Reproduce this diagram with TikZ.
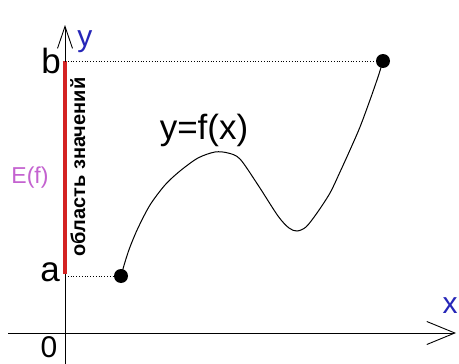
\documentclass[tikz,border=0pt]{standalone}
\usepackage{fontspec}
\setmainfont{Liberation Sans}
\usetikzlibrary{arrows.meta}
\definecolor{efcol}{HTML}{C462D0}
\definecolor{axblue}{HTML}{2626B8}
\definecolor{rangered}{HTML}{D42222}
\tikzset{
  axis/.style={line width=0.9pt, black},
  guide/.style={line width=1pt, dash pattern=on 1pt off 1.8pt},
  ptdot/.style={circle, fill=black, inner sep=0pt, minimum size=14pt},
  biglbl/.style={font=\fontsize{35}{35}\selectfont, inner sep=0pt},
  axlbl/.style={font=\fontsize{30}{30}\selectfont, text=axblue, inner sep=0pt},
}
\begin{document}
\begin{tikzpicture}[x=1pt,y=-1pt]
\useasboundingbox (0,0) rectangle (459,364);
\fill[white] (0,0) rectangle (459,364);
% axes
\coordinate (ybot) at (65,364);
\coordinate (ytop) at (65,25);
\coordinate (xleft) at (8,333);
\coordinate (xright) at (456,333);
\draw[axis, -{Straight Barb[length=22pt,width=15pt]}] (ybot) -- (ytop);
\draw[axis, -{Straight Barb[length=28pt,width=23pt]}] (xleft) -- (xright);
% range bar
\coordinate (rb) at (65,61);
\coordinate (ra) at (65,274);
\draw[rangered, line width=4.5pt] (rb) -- (ra);
% points
\node[ptdot] (pa) at (121,276) {};
\node[ptdot] (pb) at (383,61) {};
\draw[guide] (ra |- pa) -- (pa);
\draw[guide] (rb) -- (pb);
% curve
\draw[line width=1pt] plot[smooth, tension=0.5] coordinates {
 (121,276) (125,262) (130,247) (138,228) (150,205) (165,185) (180,171)
 (198,158) (215,152) (228,153) (240,159) (258,185) (278,216) (289,228)
 (297,231) (306,227) (317,213) (330,193) (340,172) (350,150) (360,127)
 (370,100) (378,77) (383,61)};
% labels
\node[biglbl] (lb) at (51,61) {b};
\node[biglbl] (la) at (50,272) {a};
\node[font=\fontsize{30}{30}\selectfont, inner sep=0pt] (l0) at (49,347) {0};
\node[axlbl] (ly) at (85,42) {y};
\node[axlbl] (lx) at (450,306) {x};
\node[biglbl] (lf) at (204,130) {y=f(x)};
\node[font=\fontsize{23}{23}\selectfont, text=efcol, inner sep=0pt] (lE) at (30,178) {E(f)};
\node[font=\bfseries\fontsize{20}{20}\selectfont, rotate=90, anchor=base, inner sep=0pt] (lr) at (85,167) {область значений};
\end{tikzpicture}
\end{document}
